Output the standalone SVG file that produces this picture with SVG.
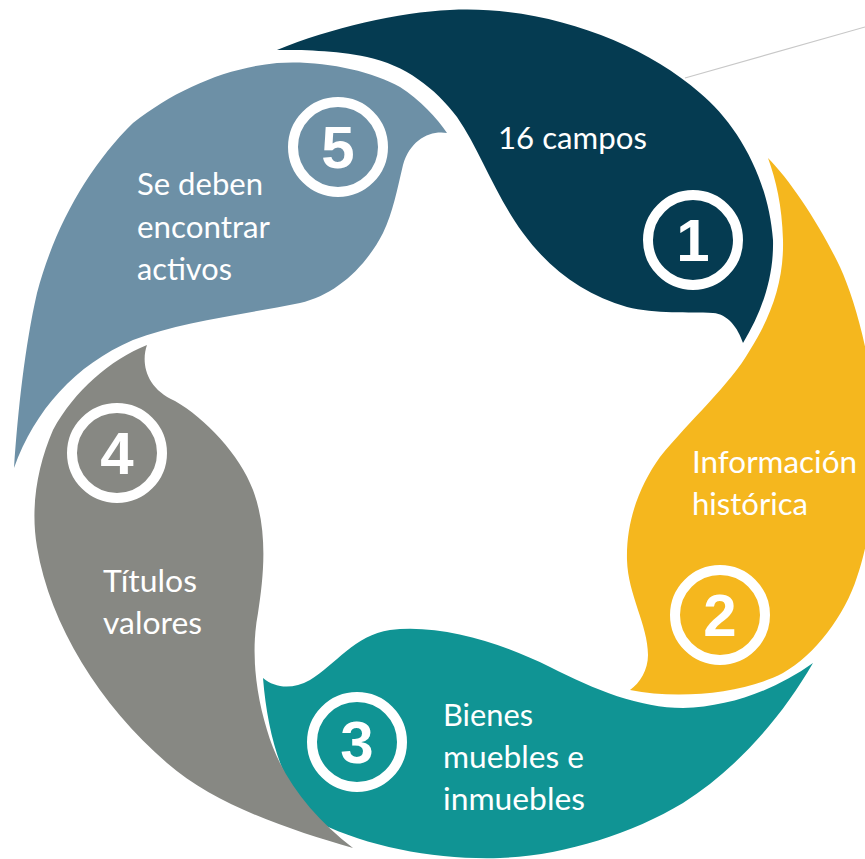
<svg xmlns="http://www.w3.org/2000/svg" width="865" height="859" viewBox="0 0 865 859">
<style>
.lbl{font-family:Lato,"Open Sans",sans-serif;font-size:30px;fill:#ffffff}
.num{font-family:"Liberation Sans",Arial,sans-serif;font-weight:bold;font-size:60px;fill:#ffffff;text-anchor:middle}
.ring{fill:none;stroke:#ffffff;stroke-width:10}
</style>
<rect width="865" height="859" fill="#ffffff"/>
<g id="connectors">
<line x1="685" y1="78" x2="865" y2="27" stroke="#c8c8c8" stroke-width="1.2"/>
</g>
<g id="node1">
<path fill="#053b51" d="M277,50 C330,28 400,12 450,10 C540,5 640,40 700,93 C735,122 768,175 773,240 C774,280 760,315 743,343 C738,328 728,314 713,313 C690,312 655,314 627,307 C585,295 550,270 523,233 C495,195 480,150 457,117 C435,88 405,65 367,57 C335,50 300,50 277,50 Z"/>
<circle class="ring" cx="693" cy="240" r="45"/>
<text class="num" x="693" y="261">1</text>
<text class="lbl" x="498" y="149" textLength="149" lengthAdjust="spacingAndGlyphs">16 campos</text>
</g>
<g id="node2">
<path fill="#f5b71e" d="M768,158 C790,180 820,225 840,267 C855,300 872,360 875,420 C878,480 870,540 857,577 C845,615 815,655 783,673 C745,693 680,700 630,690 C640,683 648,670 648,655 C648,625 628,595 627,560 C626,520 640,485 660,457 C690,420 730,385 750,350 C772,315 784,280 783,240 C782,205 776,180 768,158 Z"/>
<circle class="ring" cx="720" cy="615" r="45"/>
<text class="num" x="720" y="636">2</text>
<text class="lbl" x="692" y="473" textLength="165" lengthAdjust="spacingAndGlyphs">Información</text>
<text class="lbl" x="692" y="515" textLength="116" lengthAdjust="spacingAndGlyphs">histórica</text>
</g>
<g id="node3">
<path fill="#109494" d="M263,678 C275,688 292,690 310,680 C335,665 355,635 390,630 C440,624 500,642 550,667 C595,690 640,708 683,708 C730,707 775,690 813,663 C780,720 735,770 683,803 C630,835 560,856 500,858 C440,860 370,848 320,823 C285,795 268,740 263,678 Z"/>
<circle class="ring" cx="357" cy="742" r="45"/>
<text class="num" x="357" y="763">3</text>
<text class="lbl" x="443" y="726" textLength="90" lengthAdjust="spacingAndGlyphs">Bienes</text>
<text class="lbl" x="443" y="768" textLength="141" lengthAdjust="spacingAndGlyphs">muebles e</text>
<text class="lbl" x="443" y="810" textLength="142" lengthAdjust="spacingAndGlyphs">inmuebles</text>
</g>
<g id="node4">
<path fill="#878883" d="M147,345 C141,362 145,388 175,401 C205,418 240,455 253,490 C268,530 264,575 258,613 C251,650 255,690 267,730 C280,775 310,815 353,848 C290,830 215,805 167,763 C100,705 50,625 37,547 C30,505 38,465 53,430 C75,390 110,360 147,345 Z"/>
<circle class="ring" cx="117" cy="453" r="45"/>
<text class="num" x="117" y="474">4</text>
<text class="lbl" x="103" y="592" textLength="94" lengthAdjust="spacingAndGlyphs">Títulos</text>
<text class="lbl" x="103" y="634" textLength="99" lengthAdjust="spacingAndGlyphs">valores</text>
</g>
<g id="node5">
<path fill="#6d90a6" d="M14,468 C18,410 25,345 37,293 C55,225 90,165 133,123 C175,90 225,68 277,63 C320,60 370,70 400,87 C420,100 437,118 447,133 C430,130 410,140 403,165 C397,190 393,212 383,233 C365,268 335,295 300,303 C240,315 180,322 133,340 C75,365 35,410 14,468 Z"/>
<circle class="ring" cx="338" cy="147" r="45"/>
<text class="num" x="338" y="168">5</text>
<text class="lbl" x="137" y="195" textLength="126" lengthAdjust="spacingAndGlyphs">Se deben</text>
<text class="lbl" x="137" y="238" textLength="133" lengthAdjust="spacingAndGlyphs">encontrar</text>
<text class="lbl" x="137" y="280" textLength="95" lengthAdjust="spacingAndGlyphs">activos</text>
</g>
</svg>
